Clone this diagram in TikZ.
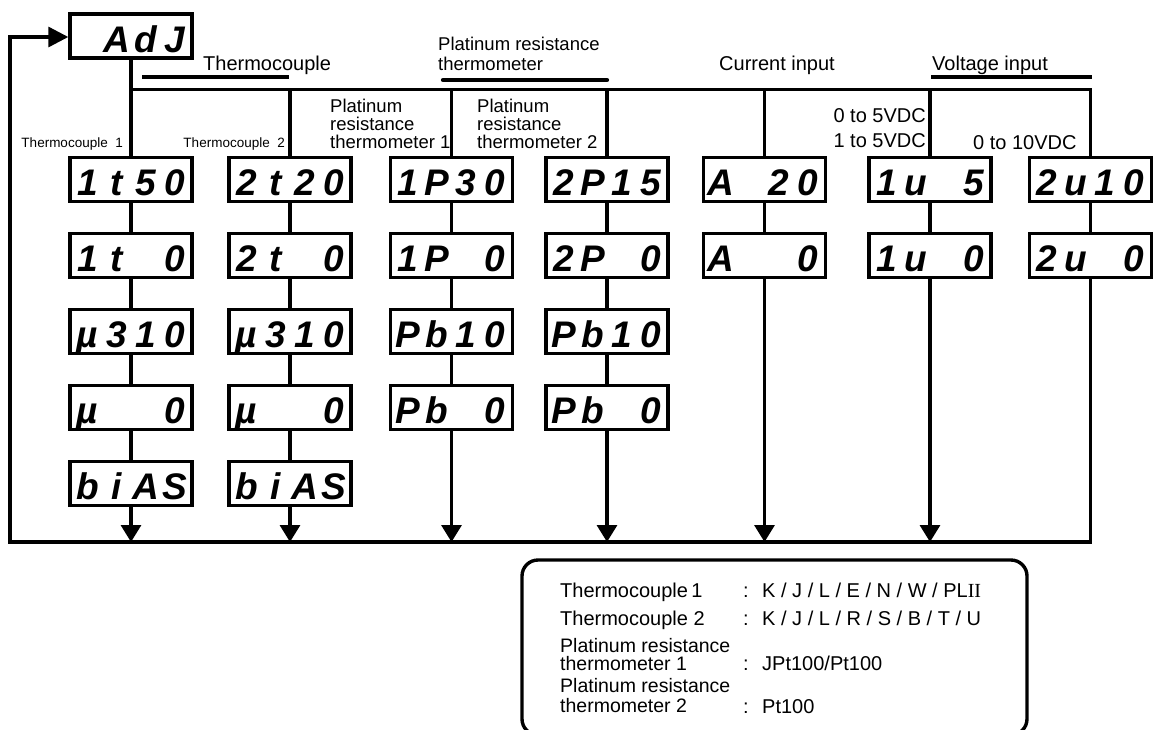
\documentclass[tikz,border=0pt]{standalone}
\usepackage{fontspec}
\setmainfont{Liberation Sans}
\newfontfamily\segfont{Liberation Sans}
\newfontfamily\romII{Liberation Serif}
\usetikzlibrary{arrows.meta}
\newcommand\dsp[4]{\makebox[29pt]{#1}\makebox[29pt]{#2}\makebox[29pt]{#3}\makebox[29pt]{#4}}
\begin{document}
\begin{tikzpicture}[x=1pt,y=-1pt,
  segbox/.style={draw, line width=3.4pt, minimum width=122pt, minimum height=44pt, inner sep=0pt,
    text height=32pt, text depth=0pt, font={\segfont\bfseries\itshape\fontsize{37}{37}\selectfont}},
  conn/.style={line width=3.2pt},
  arr/.style={conn, -{Triangle[width=20pt,length=17pt]}},
  bar/.style={line width=4.8pt},
  lblA/.style={inner sep=0pt, font={\fontsize{20}{20}\selectfont}},
  lblB/.style={inner sep=0pt, font={\fontsize{18.5}{18.5}\selectfont}},
  lblC/.style={inner sep=0pt, font={\fontsize{13.5}{13.5}\selectfont}},
  lblD/.style={inner sep=0pt, font={\fontsize{19.5}{19.5}\selectfont}},
  infobox/.style={draw, line width=3.4pt, rounded corners=16pt, inner sep=0pt}
]
\useasboundingbox (0,0) rectangle (1154,729);
\clip (0,0) rectangle (1154,729);
\fill[white] (0,0) rectangle (1154,729);

% display boxes
\node[segbox] (adj) at (131,36) {\dsp{}{A}{d}{J}};

\node[segbox] (b11) at (131,179.5) {\dsp{1}{t}{5}{0}};
\node[segbox] (b12) at (131,255.5) {\dsp{1}{t}{}{0}};
\node[segbox] (b13) at (131,331.5) {\dsp{µ}{3}{1}{0}};
\node[segbox] (b14) at (131,407.5) {\dsp{µ}{}{}{0}};
\node[segbox] (b15) at (131,483.5) {\dsp{b}{i}{A}{S}};

\node[segbox] (b21) at (290,179.5) {\dsp{2}{t}{2}{0}};
\node[segbox] (b22) at (290,255.5) {\dsp{2}{t}{}{0}};
\node[segbox] (b23) at (290,331.5) {\dsp{µ}{3}{1}{0}};
\node[segbox] (b24) at (290,407.5) {\dsp{µ}{}{}{0}};
\node[segbox] (b25) at (290,483.5) {\dsp{b}{i}{A}{S}};

\node[segbox] (b31) at (451.5,179.5) {\dsp{1}{P}{3}{0}};
\node[segbox] (b32) at (451.5,255.5) {\dsp{1}{P}{}{0}};
\node[segbox] (b33) at (451.5,331.5) {\dsp{P}{b}{1}{0}};
\node[segbox] (b34) at (451.5,407.5) {\dsp{P}{b}{}{0}};

\node[segbox] (b41) at (607,179.5) {\dsp{2}{P}{1}{5}};
\node[segbox] (b42) at (607,255.5) {\dsp{2}{P}{}{0}};
\node[segbox] (b43) at (607,331.5) {\dsp{P}{b}{1}{0}};
\node[segbox] (b44) at (607,407.5) {\dsp{P}{b}{}{0}};

\node[segbox] (b51) at (764.5,179.5) {\dsp{A}{}{2}{0}};
\node[segbox] (b52) at (764.5,255.5) {\dsp{A}{}{}{0}};

\node[segbox] (b61) at (930,179.5) {\dsp{1}{u}{}{5}};
\node[segbox] (b62) at (930,255.5) {\dsp{1}{u}{}{0}};

\node[segbox] (b71) at (1090.5,179.5) {\dsp{2}{u}{1}{0}};
\node[segbox] (b72) at (1090.5,255.5) {\dsp{2}{u}{}{0}};

% bus coordinates
\coordinate (tb1) at (131,89.5);
\coordinate (tb2) at (290,89.5);
\coordinate (tb3) at (451.5,89.5);
\coordinate (tb4) at (607,89.5);
\coordinate (tb5) at (764.5,89.5);
\coordinate (tb6) at (930,89.5);
\coordinate (tb7) at (1090.5,89.5);
\coordinate (bb1) at (131,542);
\coordinate (bb2) at (290,542);
\coordinate (bb3) at (451.5,542);
\coordinate (bb4) at (607,542);
\coordinate (bb5) at (764.5,542);
\coordinate (bb6) at (930,542);
\coordinate (bb7) at (1090.5,542);
\coordinate (lb) at (10,542);
\coordinate (lt) at (10,37);

% connectors
\draw[conn] (adj) -- (b11);
\draw[conn] (tb1) -- (tb7) -- (b71);
\draw[conn] (tb2) -- (b21);
\draw[conn] (tb3) -- (b31);
\draw[conn] (tb4) -- (b41);
\draw[conn] (tb5) -- (b51);
\draw[conn] (tb6) -- (b61);

\draw[conn] (b11) -- (b12); \draw[conn] (b12) -- (b13); \draw[conn] (b13) -- (b14); \draw[conn] (b14) -- (b15);
\draw[conn] (b21) -- (b22); \draw[conn] (b22) -- (b23); \draw[conn] (b23) -- (b24); \draw[conn] (b24) -- (b25);
\draw[conn] (b31) -- (b32); \draw[conn] (b32) -- (b33); \draw[conn] (b33) -- (b34);
\draw[conn] (b41) -- (b42); \draw[conn] (b42) -- (b43); \draw[conn] (b43) -- (b44);
\draw[conn] (b51) -- (b52);
\draw[conn] (b61) -- (b62);
\draw[conn] (b71) -- (b72);

\draw[conn, -{Triangle[width=20pt,length=20pt]}] (b72) -- (bb7) -- (lb) -- (lt) -- (adj.west |- lt);
\draw[arr] (b15) -- (bb1);
\draw[arr] (b25) -- (bb2);
\draw[arr] (b34) -- (bb3);
\draw[arr] (b44) -- (bb4);
\draw[arr] (b52) -- (bb5);
\draw[arr] (b62) -- (bb6);

% group bars
\draw[bar] (142,77) -- (289,77);
\draw[bar, line width=4.2pt, line cap=round] (443,80) -- (607,80);
\draw[bar] (931,77) -- (1092,77);

% top labels
\node[lblA, anchor=base west] (lTC) at (203,70) {Thermocouple};
\node[lblB, anchor=base west] (lPRa) at (438,50) {Platinum resistance};
\node[lblB, anchor=base west] (lPRb) at (438,70) {thermometer};
\node[lblA, anchor=base west] (lCI) at (719,70) {Current input};
\node[lblA, anchor=base west] (lVI) at (932,70) {Voltage input};

% column labels
\node[lblC, anchor=base east] (lTC1) at (123,147) {Thermocouple\ \ 1};
\node[lblC, anchor=base east] (lTC2) at (285,147) {Thermocouple\ \ 2};
\node[lblB, anchor=base west] (lP1a) at (330,112) {Platinum};
\node[lblB, anchor=base west] (lP1b) at (330,130) {resistance};
\node[lblB, anchor=base west] (lP1c) at (330,148) {thermometer 1};
\node[lblB, anchor=base west] (lP2a) at (477,112) {Platinum};
\node[lblB, anchor=base west] (lP2b) at (477,130) {resistance};
\node[lblB, anchor=base west] (lP2c) at (477,148) {thermometer 2};
\node[lblA, anchor=base east] (lV1) at (926,122.5) {0 to 5VDC};
\node[lblA, anchor=base east] (lV2) at (926,147) {1 to 5VDC};
\node[lblA, anchor=base west] (lV3) at (973,149) {0 to 10VDC};

% info box
\node[infobox, minimum width=505pt, minimum height=175pt] (info) at (774.5,647.5) {};
\node[lblA, anchor=base west] (i1) at (560,597) {Thermocouple\,1};
\node[lblA, anchor=base west] (i2) at (560,625) {Thermocouple 2};
\node[lblD, anchor=base west] (i3) at (560,652) {Platinum resistance};
\node[lblD, anchor=base west] (i4) at (560,670) {thermometer 1};
\node[lblD, anchor=base west] (i5) at (560,692) {Platinum resistance};
\node[lblD, anchor=base west] (i6) at (560,712) {thermometer 2};
\node[lblA, anchor=base west] (c1) at (743,597) {:};
\node[lblA, anchor=base west] (c2) at (743,625) {:};
\node[lblA, anchor=base west] (c3) at (743,670) {:};
\node[lblA, anchor=base west] (c4) at (743,713) {:};
\node[lblA, anchor=base west] (v1) at (762,597) {K / J / L / E / N / W / PL{\romII II}};
\node[lblA, anchor=base west] (v2) at (762,625) {K / J / L / R / S / B / T / U};
\node[lblA, anchor=base west] (v3) at (762,670) {JPt100/Pt100};
\node[lblA, anchor=base west] (v4) at (762,713) {Pt100};
\end{tikzpicture}
\end{document}
